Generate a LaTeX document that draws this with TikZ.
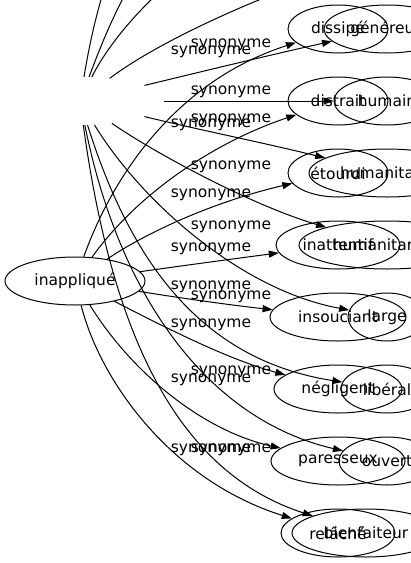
\documentclass[tikz,border=0pt]{standalone}
\usepackage{fontspec}
\setmainfont{DejaVu Sans}
\usetikzlibrary{shapes.geometric,arrows.meta}
\begin{document}
\begin{tikzpicture}[x=1pt,y=-1pt,
  every node/.style={font=\fontsize{15.5}{18}\selectfont},
  word/.style={ellipse,draw,line width=1pt,inner sep=0pt,minimum height=48pt},
  hidden/.style={ellipse,inner sep=0pt,minimum height=48pt},
  syn/.style={anchor=base,inner sep=0pt},
  edge/.style={line width=1pt,-{Triangle[length=10pt,width=7pt]}}]
\useasboundingbox (0,0) rectangle (411,563);
\clip (0,0) rectangle (411,563);
% sources
\node[word,minimum width=140pt] (inap) at (75,281) {inappliqué};
\node[hidden,minimum width=168pt] (phil) at (80,101) {};
% first set
\node[word,minimum width=100pt] (dis) at (338,29) {dissipé};
\node[word,minimum width=100pt] (dst) at (338,101) {distrait};
\node[word,minimum width=100pt] (eto) at (338,173) {étourdi};
\node[word,minimum width=124pt] (ina) at (338,245) {inattentif};
\node[word,minimum width=136pt] (ins) at (338,317) {insouciant};
\node[word,minimum width=128pt] (neg) at (338,389) {négligent};
\node[word,minimum width=134pt] (par) at (338,461) {paresseux};
\node[word,minimum width=114pt] (rel) at (338,533) {relâché};
% second set
\node[word,minimum width=126pt] (gen) at (387,29) {généreux};
\node[word,minimum width=106pt] (hum) at (387,101) {humain};
\node[word,minimum width=156pt] (huma) at (387,173) {humanitaire};
\node[word,minimum width=176pt] (humt) at (387,245) {humanitariste};
\node[word,minimum width=78pt] (lar) at (387,317) {large};
\node[word,minimum width=92pt] (lib) at (387,389) {libéral};
\node[word,minimum width=96pt] (ouv) at (387,461) {ouvert};
\node[word,minimum width=148pt] (bie) at (366,533) {bienfaiteur};
% hidden targets above the picture
\coordinate (h1) at (387,-43);
\coordinate (h2) at (387,-115);
\coordinate (h3) at (387,-187);
\coordinate (h4) at (387,-259);
% edges of the first set
\draw[edge] (inap) .. controls (115,170) and (180,80) .. (dis);
\draw[edge] (inap) .. controls (140,190) and (220,140) .. (dst);
\draw[edge] (inap) .. controls (150,230) and (220,200) .. (eto);
\draw[edge] (inap) .. controls (180,266) and (240,258) .. (ina);
\draw[edge] (inap) .. controls (180,298) and (230,305) .. (ins);
\draw[edge] (inap) .. controls (170,330) and (230,360) .. (neg);
\draw[edge] (inap) .. controls (130,370) and (200,430) .. (par);
\draw[edge] (inap) .. controls (100,380) and (170,480) .. (rel);
% edges of the second set
\draw[edge] (phil) .. controls (200,72) and (270,55) .. (gen);
\draw[edge] (phil) -- (hum);
\draw[edge] (phil) .. controls (200,130) and (260,142) .. (huma);
\draw[edge] (phil) .. controls (150,150) and (250,205) .. (humt);
\draw[edge] (phil) .. controls (140,200) and (240,290) .. (lar);
\draw[edge] (phil) .. controls (130,260) and (200,360) .. (lib);
\draw[edge] (phil) .. controls (120,300) and (210,420) .. (ouv);
\draw[edge] (phil) .. controls (110,320) and (170,470) .. (bie);
\draw[edge] (phil) .. controls (160,40) and (280,-15) .. (h1);
\draw[edge] (phil) .. controls (120,20) and (220,-90) .. (h2);
\draw[edge] (phil) .. controls (118,0) and (180,-160) .. (h3);
\draw[edge] (phil) .. controls (100,-20) and (150,-230) .. (h4);
% labels
\node[syn] (s1) at (211,54) {synonyme};
\node[syn] (s2) at (231,47) {synonyme};
\node[syn] (s3) at (231,94) {synonyme};
\node[syn] (s4) at (211,127) {synonyme};
\node[syn] (s5) at (231,122) {synonyme};
\node[syn] (s6) at (231,169) {synonyme};
\node[syn] (s7) at (211,197) {synonyme};
\node[syn] (s8) at (231,229) {synonyme};
\node[syn] (s9) at (211,251) {synonyme};
\node[syn] (s10) at (211,289) {synonyme};
\node[syn] (s11) at (231,299) {synonyme};
\node[syn] (s12) at (211,327) {synonyme};
\node[syn] (s13) at (231,374) {synonyme};
\node[syn] (s14) at (211,382) {synonyme};
\node[syn] (s15) at (211,452) {synonyme};
\node[syn] (s16) at (231,452) {synonyme};
\end{tikzpicture}
\end{document}
